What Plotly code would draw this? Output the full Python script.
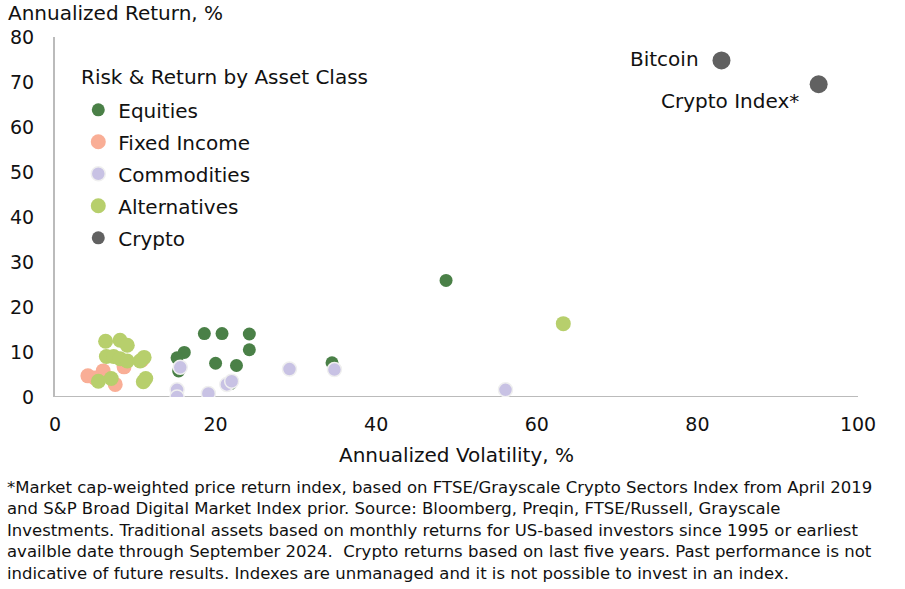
import plotly.graph_objects as go

# data (volatility %, return %)
eq_vol = [18.6, 20.8, 24.2, 24.2, 16.1, 15.2, 20.0, 22.6, 15.4, 34.5, 21.9, 48.7]
eq_ret = [14.1, 14.1, 14.0, 10.5, 9.9, 8.7, 7.5, 7.0, 5.8, 7.6, 3.0, 25.9]

fi_vol = [4.1, 6.0, 7.5, 8.6, 10.8, 5.0]
fi_ret = [4.7, 5.8, 2.8, 6.7, 8.2, 4.2]

com_vol = [15.6, 15.2, 15.2, 19.1, 21.4, 22.0, 29.2, 34.8, 56.1]
com_ret = [6.6, 1.6, 0.0, 0.8, 2.8, 3.5, 6.2, 6.1, 1.6]

alt_vol = [6.3, 8.1, 9.0, 6.4, 7.3, 8.1, 9.0, 11.1, 10.6, 5.4, 7.0, 11.3, 11.0, 63.3]
alt_ret = [12.4, 12.6, 11.5, 9.0, 9.0, 8.5, 8.0, 8.8, 8.0, 3.5, 4.1, 4.1, 3.4, 16.3]

cr_names = ['Bitcoin', 'Crypto Index*']
cr_vol = [83.0, 95.1]
cr_ret = [74.8, 69.5]

font = 'DejaVu Sans, sans-serif'
ink = '#111111'

fig = go.Figure()

fig.add_trace(go.Scatter(x=eq_vol, y=eq_ret, mode='markers', name='Equities', legendgroup='a',
                         marker=dict(color='#4A8047', size=13)))
fig.add_trace(go.Scatter(x=fi_vol, y=fi_ret, mode='markers', name='Fixed Income', legendgroup='b',
                         marker=dict(color='#F9AE96', size=15)))
fig.add_trace(go.Scatter(x=com_vol, y=com_ret, mode='markers', name='Commodities', legendgroup='c',
                         marker=dict(color='#C8C2E4', size=14,
                                     line=dict(color='#EFEFEF', width=1.5))))
fig.add_trace(go.Scatter(x=alt_vol, y=alt_ret, mode='markers', name='Alternatives', legendgroup='d',
                         marker=dict(color='#B7CF6C', size=15)))
fig.add_trace(go.Scatter(x=cr_vol, y=cr_ret, mode='markers', name='Crypto', legendgroup='e',
                         showlegend=False, marker=dict(color='#616161', size=18)))
# legend entry for crypto with the smaller swatch seen in the reference
fig.add_trace(go.Scatter(x=[None], y=[None], mode='markers', name='Crypto', legendgroup='e',
                         marker=dict(color='#616161', size=13)))

# labels for the crypto points
fig.add_annotation(x=cr_vol[0], y=cr_ret[0], text=cr_names[0], showarrow=False,
                   xanchor='right', yanchor='middle', xshift=-20, yshift=1,
                   font=dict(size=20, color=ink, family=font))
fig.add_annotation(x=cr_vol[1], y=cr_ret[1], text=cr_names[1], showarrow=False,
                   xanchor='right', yanchor='middle', xshift=-18, yshift=-17,
                   font=dict(size=20, color=ink, family=font))

# y axis title at top left
fig.add_annotation(x=0, y=1, xref='paper', yref='paper', text='Annualized Return, %',
                   showarrow=False, xanchor='left', yanchor='middle', xshift=-49, yshift=24,
                   font=dict(size=20, color=ink, family=font))

# legend heading
fig.add_annotation(x=0, y=1, xref='paper', yref='paper', text='Risk & Return by Asset Class',
                   showarrow=False, xanchor='left', yanchor='middle', xshift=24, yshift=-40,
                   font=dict(size=20, color=ink, family=font))

footnote = ('*Market cap-weighted price return index, based on FTSE/Grayscale Crypto Sectors Index from April 2019<br>'
            'and S&P Broad Digital Market Index prior. Source: Bloomberg, Preqin, FTSE/Russell, Grayscale<br>'
            'Investments. Traditional assets based on monthly returns for US-based investors since 1995 or earliest<br>'
            'availble date through September 2024.  Crypto returns based on last five years. Past performance is not<br>'
            'indicative of future results. Indexes are unmanaged and it is not possible to invest in an index.')
fig.add_annotation(x=0, y=0, xref='paper', yref='paper', text=footnote, showarrow=False,
                   xanchor='left', yanchor='top', align='left', xshift=-50, yshift=-79,
                   font=dict(size=16.5, color=ink, family=font))

fig.update_layout(
    width=905, height=589,
    margin=dict(l=55, r=47, t=37, b=192),
    paper_bgcolor='white', plot_bgcolor='white',
    font=dict(family=font, size=19, color=ink),
    showlegend=True,
    legend=dict(x=0.029, y=0.852, xanchor='left', yanchor='top',
                bgcolor='rgba(0,0,0,0)', font=dict(size=20),
                tracegroupgap=3, itemsizing='trace', itemwidth=30),
    xaxis=dict(range=[0, 100], dtick=20, showgrid=False, zeroline=False,
               showline=False, ticks='', tickfont=dict(size=19), automargin=False,
               ticklabelstandoff=14,
               title=dict(text='Annualized Volatility, %', font=dict(size=20), standoff=13)),
    yaxis=dict(range=[0, 80], dtick=10, showgrid=False, zeroline=False,
               showline=True, linecolor='#BBBBBB', linewidth=2, ticks='', automargin=False,
               tickfont=dict(size=19), ticklabelstandoff=15),
)

# horizontal base line at y = 0
fig.add_shape(type='line', xref='paper', yref='y', x0=0, x1=1, y0=0, y1=0,
              line=dict(color='#BBBBBB', width=2), layer='below')

# drop the default page margin so the figure sits at the window's corner
fig.write_html('out.html', config={'displayModeBar': False},
               post_script="document.body.style.margin='0';")
